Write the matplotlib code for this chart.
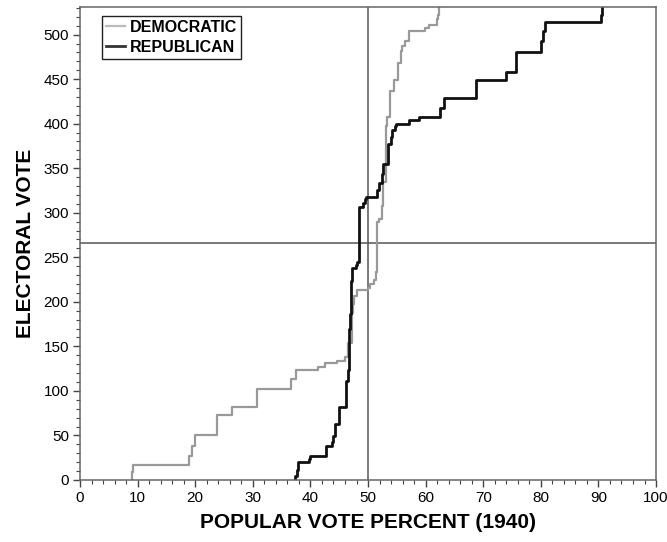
import matplotlib
matplotlib.use("Agg")
import matplotlib.pyplot as plt
from matplotlib.ticker import MultipleLocator

plt.rcParams['font.family'] = ['Liberation Sans', 'DejaVu Sans']

# popular vote percent at which each cumulative electoral vote total is reached
dem_pct = [9.04, 9.11, 18.86, 19.52, 19.89, 23.82, 26.30, 30.73, 30.79, 36.66,
           37.49, 41.25, 42.49, 44.66, 45.96, 46.49, 46.52, 47.30, 47.30, 47.33,
           47.64, 48.01, 48.15, 50.04, 50.38, 51.04, 51.30, 51.51, 51.52, 51.63,
           51.92, 52.47, 52.54, 53.14, 53.19, 53.25, 53.77, 54.59, 55.22, 55.71,
           55.97, 56.37, 57.12, 59.82, 60.56, 61.93, 62.15, 62.34]
dem_ev = [9, 17, 27, 38, 50, 73, 82, 89, 102, 113,
          124, 127, 131, 134, 138, 146, 154, 176, 187, 198,
          206, 210, 213, 216, 220, 225, 233, 269, 273, 290,
          293, 308, 334, 381, 397, 408, 437, 449, 468, 482,
          487, 493, 504, 507, 511, 518, 522, 531]

rep_pct = [37.37, 37.59, 37.92, 39.72, 39.99, 42.75, 43.68, 43.86, 44.33, 44.93,
           46.24, 46.46, 46.74, 46.85, 46.98, 47.12, 47.28, 47.89, 48.00, 48.42,
           48.44, 48.48, 49.15, 49.47, 49.73, 51.50, 51.56, 51.88, 52.48, 52.55,
           53.44, 53.95, 54.20, 54.61, 54.86, 57.19, 58.77, 62.43, 63.23, 68.73,
           68.79, 73.91, 75.65, 79.94, 80.44, 80.69, 90.41, 90.59]
rep_ev = [4, 11, 20, 24, 27, 38, 43, 49, 63, 82,
          111, 123, 170, 186, 212, 223, 238, 241, 245, 262,
          298, 306, 311, 315, 318, 321, 325, 333, 344, 355,
          377, 385, 393, 397, 400, 404, 407, 418, 429, 442,
          449, 458, 481, 493, 504, 514, 522, 531]

total_ev = 531
majority = 266

fig = plt.figure(figsize=(6.67, 5.42), dpi=100)
ax = fig.add_axes([0.12, 0.1144, 0.8636, 0.8727])

ax.step([dem_pct[0]] + dem_pct, [0] + dem_ev, where='post',
        color='#999999', lw=1.6, label='DEMOCRATIC')
ax.step([rep_pct[0]] + rep_pct, [0] + rep_ev, where='post',
        color='#111111', lw=2.0, label='REPUBLICAN')

ax.axvline(50, color='#555555', lw=1.1, zorder=1)
ax.axhline(majority, color='#555555', lw=1.1, zorder=1)

ax.set_xlim(0, 100)
ax.set_ylim(0, total_ev)
ax.xaxis.set_major_locator(MultipleLocator(10))
ax.xaxis.set_minor_locator(MultipleLocator(2))
ax.yaxis.set_major_locator(MultipleLocator(50))
ax.yaxis.set_minor_locator(MultipleLocator(10))
ax.tick_params(which='major', direction='out', length=5, width=1,
               color='#444444', labelsize=11, pad=3)
ax.tick_params(which='minor', direction='out', length=3, width=0.8,
               color='#444444')
for s in ax.spines.values():
    s.set_color('#666666')
    s.set_linewidth(1.1)

ax.set_xlabel('POPULAR VOTE PERCENT (1940)', fontsize=15, fontweight='bold',
              labelpad=6)
ax.set_ylabel('ELECTORAL VOTE', fontsize=15, fontweight='bold', labelpad=6)

leg = ax.legend(loc='upper left', bbox_to_anchor=(0.038, 0.981),
                borderaxespad=0, prop={'weight': 'bold', 'size': 11.5},
                handlelength=1.2, handletextpad=0.3, borderpad=0.25,
                labelspacing=0.3, fancybox=False, framealpha=1)
leg.get_frame().set_edgecolor('#222222')
leg.get_frame().set_linewidth(1.0)
leg.get_lines()[0].set_color('#bbbbbb')
leg.get_lines()[1].set_color('#333333')

fig.savefig('out.png', dpi=100)
